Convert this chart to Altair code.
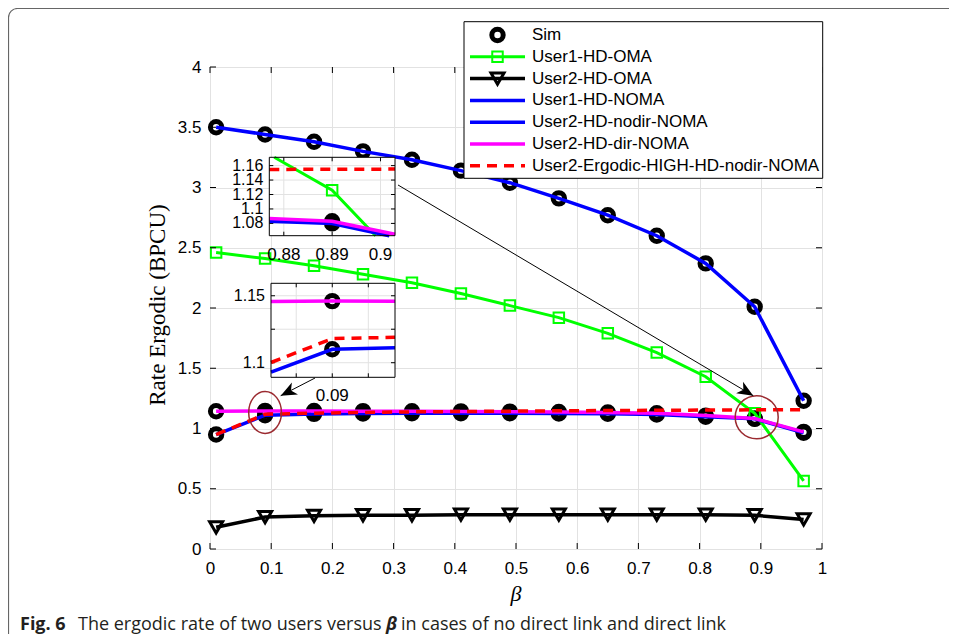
import altair as alt
import pandas as pd

# ---------------- data ----------------
beta = [0.01, 0.09, 0.17, 0.25, 0.33, 0.41, 0.49, 0.57, 0.65, 0.73, 0.81, 0.89, 0.97]
user1_hd_oma = [2.46, 2.41, 2.35, 2.28, 2.21, 2.12, 2.02, 1.92, 1.79, 1.63, 1.43, 1.126, 0.565]
user2_hd_oma = [0.18, 0.265, 0.275, 0.28, 0.28, 0.285, 0.285, 0.285, 0.285, 0.285, 0.285, 0.28, 0.245]
user1_hd_noma = [3.50, 3.44, 3.38, 3.30, 3.23, 3.14, 3.04, 2.91, 2.77, 2.60, 2.37, 2.01, 1.23]
user2_hd_nodir_noma = [0.95, 1.11, 1.121, 1.125, 1.127, 1.127, 1.126, 1.125, 1.122, 1.116, 1.098, 1.080, 0.965]
user2_hd_dir_noma = [1.143, 1.146, 1.145, 1.144, 1.143, 1.142, 1.140, 1.137, 1.133, 1.126, 1.107, 1.083, 0.972]
user2_ergodic_high = [0.95, 1.118, 1.127, 1.133, 1.138, 1.141, 1.144, 1.147, 1.149, 1.151, 1.153, 1.155, 1.156]
sim_user1_noma = [3.50, 3.44, 3.38, 3.30, 3.23, 3.14, 3.04, 2.91, 2.77, 2.60, 2.37, 2.01, 1.23]
sim_user2_nodir = [0.95, 1.11, 1.121, 1.125, 1.127, 1.127, 1.126, 1.125, 1.122, 1.116, 1.098, 1.080, 0.965]
sim_user2_dir = [1.143, 1.146, 1.145, 1.144, 1.143, 1.142, 1.140, 1.137, 1.133, 1.126, 1.107, 1.083, 0.972]

x_ticks = [0, 0.1, 0.2, 0.3, 0.4, 0.5, 0.6, 0.7, 0.8, 0.9, 1]
y_ticks = [0, 0.5, 1, 1.5, 2, 2.5, 3, 3.5, 4]

legend_labels = ["Sim", "User1-HD-OMA", "User2-HD-OMA", "User1-HD-NOMA",
                 "User2-HD-nodir-NOMA", "User2-HD-dir-NOMA", "User2-Ergodic-HIGH-HD-nodir-NOMA"]

# zoom windows (data units)
inset1_x = [0.877, 0.903]
inset1_y = [1.063, 1.1715]
inset1_xticks = [0.88, 0.89, 0.9]
inset1_xlabels = ["0.88", "0.89", "0.9"]
inset1_yticks = [1.08, 1.1, 1.12, 1.14, 1.16]
inset1_ylabels = ["1.08", "1.1", "1.12", "1.14", "1.16"]
inset2_x = [0.0815, 0.0987]
inset2_y = [1.0891, 1.1593]
inset2_xticks = [0.085, 0.09, 0.095]
inset2_xlabels = ["", "0.09", ""]
inset2_yticks = [1.1, 1.125, 1.15]
inset2_ylabels = ["1.1", "", "1.15"]

# annotations (data units)
mark_circle_x = [0.09, 0.8933]
mark_circle_y = [1.133, 1.093]
arrow_x = [0.3072, 0.1716]
arrow_y = [3.021, 1.419]
arrow_x2 = [0.8877, 0.1155]
arrow_y2 = [1.272, 1.272]

# ---------------- layout / style ----------------
W, H = 612, 482
GREEN, BLUE, MAGENTA, RED, DARKRED = "#00ff00", "#0000ff", "#ff00ff", "#ff0000", "#9b2a30"
GRID = "#e2e2e2"
FONT = "Liberation Sans"
CAP_FONT = "Open Sans"
CAP_SIZE = 18

XS = alt.Scale(domain=[0, 1], nice=False, zero=False)
YS = alt.Scale(domain=[0, 4], nice=False, zero=False)
xaxis = alt.Axis(values=x_ticks, format="~g", title=None, grid=True, gridColor=GRID, domain=False,
                 ticks=False, labelFont=FONT, labelFontSize=17, labelColor="black", labelPadding=11,
                 labelFlush=False)
yaxis = alt.Axis(values=y_ticks, format="~g", title=None, grid=True, gridColor=GRID, domain=False,
                 ticks=False, labelFont=FONT, labelFontSize=17, labelColor="black", labelPadding=9,
                 labelFlush=False)
MX = alt.X("x:Q", scale=XS, axis=xaxis)
MY = alt.Y("y:Q", scale=YS, axis=yaxis)


def sdf(xs, ys):
    return pd.DataFrame({"x": xs, "y": ys})


def sim_mark(df, X, Y):
    return alt.Chart(df).mark_point(shape="circle", filled=False, size=130, strokeWidth=5,
                                    color="black", opacity=1).encode(x=X, y=Y)


# ---------------- main layers ----------------
main_layers = [
    sim_mark(sdf(beta, sim_user1_noma), MX, MY),
    sim_mark(sdf(beta, sim_user2_nodir), MX, MY),
    sim_mark(sdf(beta, sim_user2_dir), MX, MY),
    alt.Chart(sdf(beta, user1_hd_oma)).mark_line(color=GREEN, strokeWidth=3).encode(x=MX, y=MY),
    alt.Chart(sdf(beta, user1_hd_oma)).mark_point(shape="square", filled=False, size=110, strokeWidth=2,
                                                  color=GREEN, opacity=1).encode(x=MX, y=MY),
    alt.Chart(sdf(beta, user2_hd_oma)).mark_line(color="black", strokeWidth=3.5).encode(x=MX, y=MY),
    alt.Chart(sdf(beta, user2_hd_oma)).mark_point(shape="triangle-down", filled=False, size=170,
                                                  strokeWidth=3, color="black", opacity=1).encode(x=MX, y=MY),
    alt.Chart(sdf(beta, user1_hd_noma)).mark_line(color=BLUE, strokeWidth=3.5).encode(x=MX, y=MY),
    alt.Chart(sdf(beta, user2_hd_nodir_noma)).mark_line(color=BLUE, strokeWidth=3.5).encode(x=MX, y=MY),
    alt.Chart(sdf(beta, user2_hd_dir_noma)).mark_line(color=MAGENTA, strokeWidth=3.5).encode(x=MX, y=MY),
    alt.Chart(sdf(beta, user2_ergodic_high)).mark_line(color=RED, strokeWidth=3.5, strokeDash=[10, 7]).encode(x=MX, y=MY),
    # inward ticks on the four sides
    alt.Chart(pd.DataFrame({"x": x_ticks})).mark_rule(color="black").encode(x=MX, y=alt.value(H), y2=alt.value(H - 6)),
    alt.Chart(pd.DataFrame({"x": x_ticks})).mark_rule(color="black").encode(x=MX, y=alt.value(0), y2=alt.value(6)),
    alt.Chart(pd.DataFrame({"y": y_ticks})).mark_rule(color="black").encode(y=MY, x=alt.value(0), x2=alt.value(6)),
    alt.Chart(pd.DataFrame({"y": y_ticks})).mark_rule(color="black").encode(y=MY, x=alt.value(W), x2=alt.value(W - 6)),
]
main = alt.layer(*main_layers)


# ---------------- insets ----------------
def lb_clip(xa, ya, xb, yb, bx, by):
    dx, dy = xb - xa, yb - ya
    t0, t1 = 0.0, 1.0
    for p, q in ((-dx, xa - bx[0]), (dx, bx[1] - xa), (-dy, ya - by[0]), (dy, by[1] - ya)):
        if p == 0:
            if q < 0:
                return None
        else:
            r = q / p
            if p < 0:
                t0 = max(t0, r)
            else:
                t1 = min(t1, r)
    if t0 > t1:
        return None
    return (xa + t0 * dx, ya + t0 * dy), (xa + t1 * dx, ya + t1 * dy)


def visible_part(xs, ys, bx, by):
    rows, piece, last = [], -1, None
    for i in range(len(xs) - 1):
        seg = lb_clip(xs[i], ys[i], xs[i + 1], ys[i + 1], bx, by)
        if seg is None:
            last = None
            continue
        a, b = seg
        if last is None or abs(last[0] - a[0]) > 1e-12 or abs(last[1] - a[1]) > 1e-12:
            piece += 1
            rows.append({"x": a[0], "y": a[1], "p": piece, "o": len(rows)})
        rows.append({"x": b[0], "y": b[1], "p": piece, "o": len(rows)})
        last = b
    return pd.DataFrame(rows, columns=["x", "y", "p", "o"])


def inset(bx, by, xr, yr, xt, xl, yt, yl):
    sx = alt.Scale(domain=bx, range=xr, nice=False, zero=False)
    sy = alt.Scale(domain=by, range=yr, nice=False, zero=False)
    IX = alt.X("x:Q", scale=sx, axis=None)
    IY = alt.Y("y:Q", scale=sy, axis=None)
    box = pd.DataFrame({"x": [bx[0]], "x2": [bx[1]], "y": [by[0]], "y2": [by[1]]})
    layers = [
        alt.Chart(box).mark_rect(fill="white").encode(x=IX, x2="x2:Q", y=IY, y2="y2:Q"),
        alt.Chart(pd.DataFrame({"x": xt})).mark_rule(color=GRID).encode(x=IX, y=alt.value(yr[0]), y2=alt.value(yr[1])),
        alt.Chart(pd.DataFrame({"y": yt})).mark_rule(color=GRID).encode(y=IY, x=alt.value(xr[0]), x2=alt.value(xr[1])),
        alt.Chart(pd.DataFrame({"x": xt})).mark_rule(color="black").encode(x=IX, y=alt.value(yr[0]), y2=alt.value(yr[0] - 4)),
        alt.Chart(pd.DataFrame({"x": xt})).mark_rule(color="black").encode(x=IX, y=alt.value(yr[1]), y2=alt.value(yr[1] + 4)),
        alt.Chart(pd.DataFrame({"y": yt})).mark_rule(color="black").encode(y=IY, x=alt.value(xr[0]), x2=alt.value(xr[0] + 4)),
        alt.Chart(pd.DataFrame({"y": yt})).mark_rule(color="black").encode(y=IY, x=alt.value(xr[1]), x2=alt.value(xr[1] - 4)),
    ]
    for xs_, ys_ in ((beta, sim_user1_noma), (beta, sim_user2_nodir), (beta, sim_user2_dir)):
        d = sdf(xs_, ys_)
        d = d[(d.x >= bx[0]) & (d.x <= bx[1]) & (d.y >= by[0]) & (d.y <= by[1])]
        if len(d):
            layers.append(sim_mark(d, IX, IY))
    for ys_, col, sw, dash in ((user1_hd_oma, GREEN, 3, None), (user2_hd_oma, "black", 3.5, None),
                               (user1_hd_noma, BLUE, 3.5, None), (user2_hd_nodir_noma, BLUE, 3.5, None),
                               (user2_hd_dir_noma, MAGENTA, 3.5, None), (user2_ergodic_high, RED, 3.5, [10, 7])):
        d = visible_part(beta, ys_, bx, by)
        if len(d) == 0:
            continue
        kw = dict(color=col, strokeWidth=sw)
        if dash:
            kw["strokeDash"] = dash
        layers.append(alt.Chart(d).mark_line(**kw).encode(x=IX, y=IY, detail="p:N", order="o:Q"))
        if col == GREEN:
            dp = sdf(beta, ys_)
            dp = dp[(dp.x >= bx[0]) & (dp.x <= bx[1]) & (dp.y >= by[0]) & (dp.y <= by[1])]
            if len(dp):
                layers.append(alt.Chart(dp).mark_point(shape="square", filled=False, size=110, strokeWidth=2,
                                                       color=GREEN, opacity=1).encode(x=IX, y=IY))
    layers += [
        alt.Chart(box).mark_rect(fillOpacity=0, stroke="black", strokeWidth=1).encode(x=IX, x2="x2:Q", y=IY, y2="y2:Q"),
        alt.Chart(pd.DataFrame({"x": xt, "t": xl})).mark_text(font=FONT, fontSize=17, baseline="middle", color="black")
        .encode(x=IX, y=alt.value(yr[0] + 19), text="t:N"),
        alt.Chart(pd.DataFrame({"y": yt, "t": yl})).mark_text(font=FONT, fontSize=16, align="right", baseline="middle",
                                                             color="black")
        .encode(y=IY, x=alt.value(xr[0] - 6), text="t:N"),
    ]
    return alt.layer(*layers)


ins1 = inset(inset1_x, inset1_y, [59.3, 185], [168.7, 90.3], inset1_xticks, inset1_xlabels, inset1_yticks, inset1_ylabels)
ins2 = inset(inset2_x, inset2_y, [61, 185], [310.3, 216.3], inset2_xticks, inset2_xlabels, inset2_yticks, inset2_ylabels)

# ---------------- overlay annotations (same mapping as main) ----------------
OX = alt.X("x:Q", scale=XS, axis=None)
OY = alt.Y("y:Q", scale=YS, axis=None)
arrows = pd.DataFrame({"x": arrow_x, "y": arrow_y, "x2": arrow_x2, "y2": arrow_y2})
head = "M0,0 L-1,-0.42 L-0.72,0 L-1,0.42 Z"
ell1 = "M-0.78,0 A0.78,1 0 1,0 0.78,0 A0.78,1 0 1,0 -0.78,0 Z"
circ = "M-1,0 A1,1 0 1,0 1,0 A1,1 0 1,0 -1,0 Z"
overlay = alt.layer(
    alt.Chart(sdf(mark_circle_x[:1], mark_circle_y[:1])).mark_point(shape=ell1, size=42 * 42, filled=False,
                                                                     color=DARKRED, strokeWidth=1.5, opacity=1)
    .encode(x=OX, y=OY),
    alt.Chart(sdf(mark_circle_x[1:], mark_circle_y[1:])).mark_point(shape=circ, size=43 * 43, filled=False,
                                                                     color=DARKRED, strokeWidth=1.5, opacity=1)
    .encode(x=OX, y=OY),
    alt.Chart(arrows).mark_rule(color="black", strokeWidth=1).encode(x=OX, y=OY, x2="x2:Q", y2="y2:Q"),
    alt.Chart(sdf(arrow_x2[:1], arrow_y2[:1])).mark_point(shape=head, size=32 * 32, filled=True, color="black",
                                                          opacity=1, angle=31).encode(x=OX, y=OY),
    alt.Chart(sdf(arrow_x2[1:], arrow_y2[1:])).mark_point(shape=head, size=32 * 32, filled=True, color="black",
                                                          opacity=1, angle=153).encode(x=OX, y=OY),
)

# ---------------- legend ----------------
one = pd.DataFrame({"a": [0]})
leg_layers = [alt.Chart(one).mark_rect(fill="white", stroke="black", strokeWidth=1)
              .encode(x=alt.value(254), x2=alt.value(612.7), y=alt.value(-45.3), y2=alt.value(111.3))]
leg_style = [
    (None, "circle"),
    (dict(color=GREEN, strokeWidth=3), "square"),
    (dict(color="black", strokeWidth=3.5), "triangle-down"),
    (dict(color=BLUE, strokeWidth=3.5), None),
    (dict(color=BLUE, strokeWidth=3.5), None),
    (dict(color=MAGENTA, strokeWidth=3.5), None),
    (dict(color=RED, strokeWidth=3.5, strokeDash=[10, 7]), None),
]
for i, (lab, (ls, mk)) in enumerate(zip(legend_labels, leg_style)):
    yy = -32 + 21.8 * i
    if ls:
        leg_layers.append(alt.Chart(one).mark_rule(**ls).encode(x=alt.value(260), x2=alt.value(315), y=alt.value(yy)))
    if mk == "circle":
        leg_layers.append(alt.Chart(one).mark_point(shape="circle", filled=False, size=130, strokeWidth=5,
                                                    color="black", opacity=1).encode(x=alt.value(287.5), y=alt.value(yy)))
    elif mk == "square":
        leg_layers.append(alt.Chart(one).mark_point(shape="square", filled=False, size=110, strokeWidth=2,
                                                    color=GREEN, opacity=1).encode(x=alt.value(287.5), y=alt.value(yy)))
    elif mk == "triangle-down":
        leg_layers.append(alt.Chart(one).mark_point(shape="triangle-down", filled=False, size=170, strokeWidth=3,
                                                    color="black", opacity=1).encode(x=alt.value(287.5), y=alt.value(yy)))
    leg_layers.append(alt.Chart(pd.DataFrame({"t": [lab]})).mark_text(font=FONT, fontSize=17, align="left",
                                                                       baseline="middle", color="black")
                      .encode(x=alt.value(322), y=alt.value(yy), text="t:N"))
legend = alt.layer(*leg_layers)

# ---------------- titles, caption, frame ----------------
texts = alt.layer(
    alt.Chart(one).mark_rect(fillOpacity=0, stroke="#666666", strokeWidth=1.2, cornerRadius=9)
    .encode(x=alt.value(-201.5), x2=alt.value(770), y=alt.value(-58.5), y2=alt.value(580)),
    alt.Chart(pd.DataFrame({"t": ["Rate Ergodic (BPCU)"]})).mark_text(font="Liberation Serif", fontSize=23, angle=270,
                                                                       align="center", baseline="middle", color="black")
    .encode(x=alt.value(-52), y=alt.value(238), text="t:N"),
    alt.Chart(pd.DataFrame({"t": ["β"]})).mark_text(font="Liberation Serif", fontSize=22, fontStyle="italic",
                                                   align="center", baseline="middle", color="black")
    .encode(x=alt.value(306), y=alt.value(527), text="t:N"),
    alt.Chart(pd.DataFrame({"t": ["Fig. 6"]})).mark_text(font=CAP_FONT, fontSize=CAP_SIZE, fontWeight="bold",
                                                        align="left", baseline="alphabetic", color="#231f20")
    .encode(x=alt.value(-190), y=alt.value(563), text="t:N"),
    alt.Chart(pd.DataFrame({"t": ["The ergodic rate of two users versus"]})).mark_text(
        font=CAP_FONT, fontSize=CAP_SIZE, align="left", baseline="alphabetic", color="#231f20")
    .encode(x=alt.value(-132), y=alt.value(563), text="t:N"),
    alt.Chart(pd.DataFrame({"t": ["β"]})).mark_text(font=CAP_FONT, fontSize=CAP_SIZE, fontStyle="italic", fontWeight="bold",
                                                   align="left", baseline="alphabetic", color="#231f20")
    .encode(x=alt.value(176), y=alt.value(563), text="t:N"),
    alt.Chart(pd.DataFrame({"t": ["in cases of no direct link and direct link"]})).mark_text(
        font=CAP_FONT, fontSize=CAP_SIZE, align="left", baseline="alphabetic", color="#231f20")
    .encode(x=alt.value(191), y=alt.value(563), text="t:N"),
)

chart = alt.layer(main, ins1, ins2, overlay, legend, texts).resolve_scale(
    x="independent", y="independent"
).properties(
    width=W, height=H,
    padding={"left": 202, "top": 59, "right": 127, "bottom": 85},
    autosize=alt.AutoSizeParams(type="none"),
).configure_view(stroke="black", strokeWidth=1).configure(font=FONT)

chart.save("out.html", embed_options={"renderer": "svg", "actions": False})
